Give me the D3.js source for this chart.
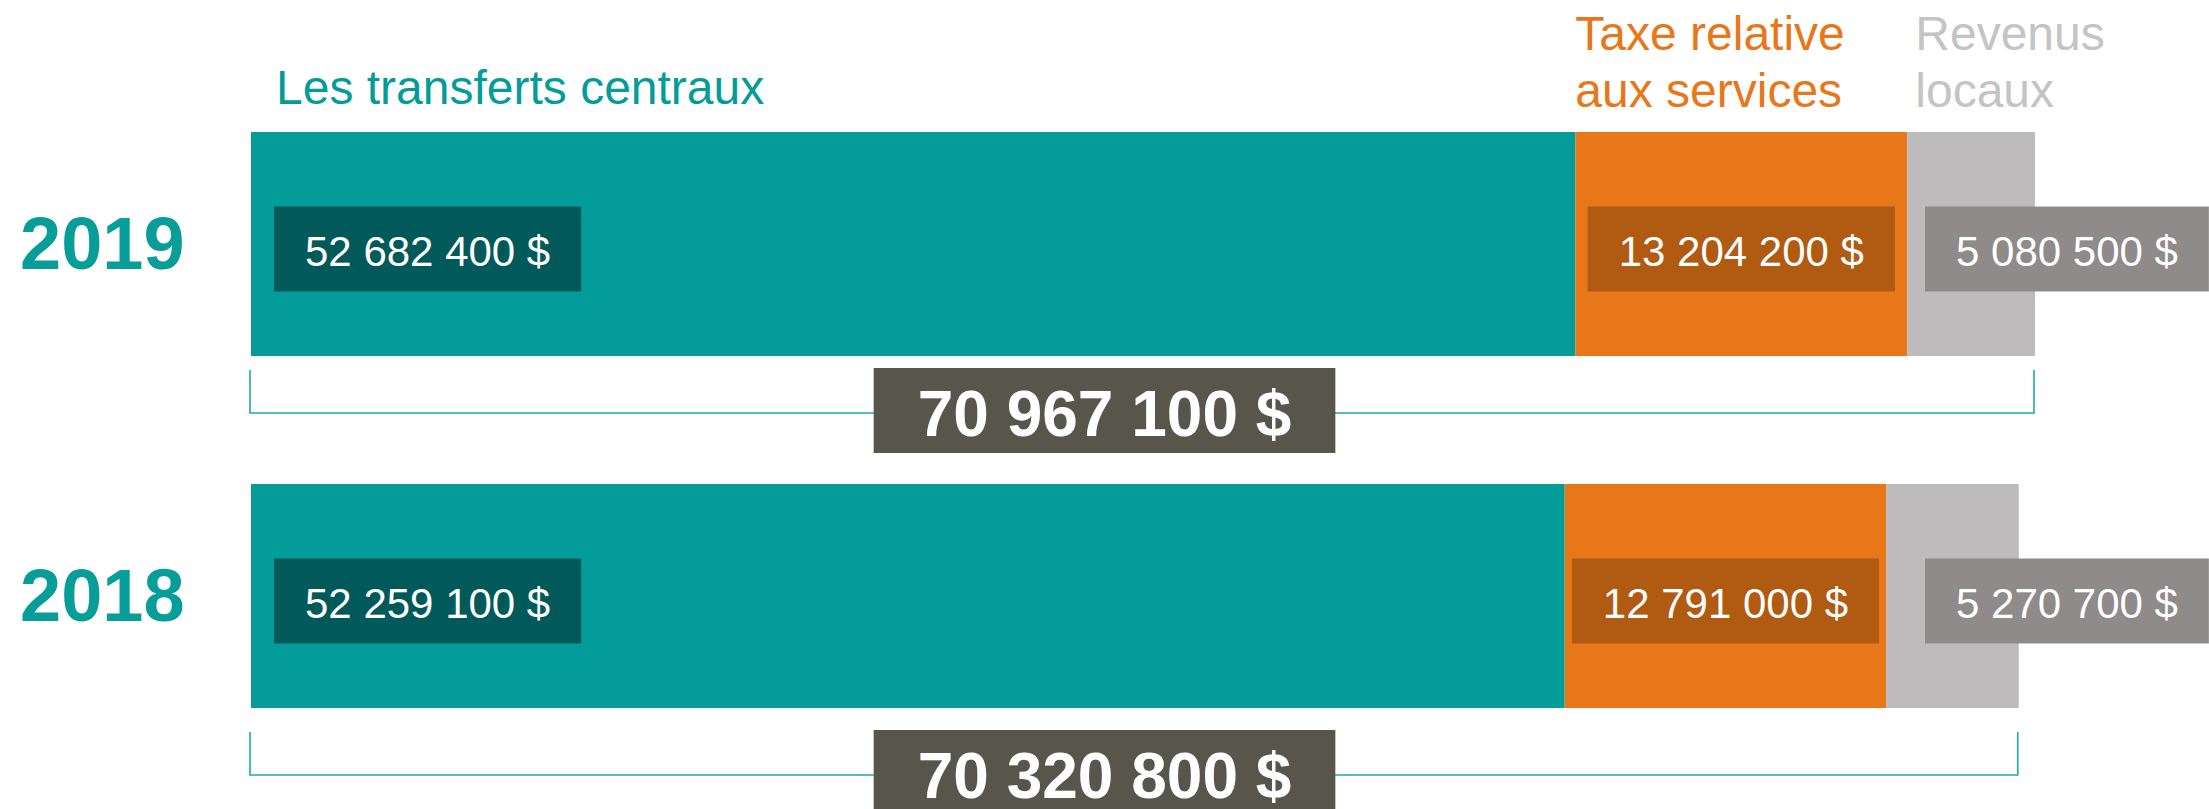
<!DOCTYPE html>
<html>
<head>
<meta charset="utf-8">
<script src="https://cdn.jsdelivr.net/npm/d3@7"></script>
<style>
  body { margin: 0; background: #fff; }
  svg { display: block; font-family: "Liberation Sans", Arial, sans-serif; }
</style>
</head>
<body>
<svg id="chart"></svg>
<script>
var years = ["2019", "2018"];
var transferts = [52682400, 52259100];
var taxe = [13204200, 12791000];
var revenus = [5080500, 5270700];
var totals = [70967100, 70320800];
var categories = [["Les transferts centraux"], ["Taxe relative", "aux services"], ["Revenus", "locaux"]];

var colors = ["#049c99", "#e8771a", "#bdbbbc"];
var darkColors = ["#02595a", "#b05a12", "#8f8b8a"];

var dimensions = { width: 2209, height: 809 };

var svg = d3.select("#chart")
    .attr("width", dimensions.width)
    .attr("height", dimensions.height);

var fmt = v => d3.format(",")(v).replace(/,/g, " ") + " $";

var xScale = d3.scaleLinear()
    .domain([0, d3.max(totals)])
    .range([251, 2035]);

var yScale = d3.scaleBand()
    .domain(years)
    .range([132, 708])
    .paddingInner(0.3636);

// brackets sit a bit further apart than the bars
var bracketY = d3.scalePoint()
    .domain(years)
    .range([413, 775]);

// build stacked rows
var rows = years.map((y, i) => {
    var vals = [transferts[i], taxe[i], revenus[i]];
    var start = 0;
    var segs = vals.map((v, k) => {
        var s = { year: y, k: k, x0: start, x1: start + v, value: v };
        start += v;
        return s;
    });
    return { year: y, total: totals[i], segs: segs };
});

var bh = yScale.bandwidth();

// category headers (above 2019 row)
var first = rows[0].segs;
var headerX = [xScale(first[0].x0) + 25, xScale(first[1].x0), xScale(first[2].x0) + 8];
var headerY = [[104], [50, 107], [50, 107]];
categories.forEach((lines, k) => {
    var t = svg.append("text")
        .attr("fill", k == 2 ? "#c4c4c4" : colors[k])
        .style("font-size", "48px");
    lines.forEach((ln, j) => {
        t.append("tspan")
            .attr("x", headerX[k])
            .attr("y", headerY[k][j])
            .text(ln);
    });
});

rows.forEach(row => {
    var y0 = yScale(row.year);
    var cy = y0 + bh / 2;

    // year label
    svg.append("text")
        .attr("x", 20)
        .attr("y", cy + 25)
        .attr("fill", "#079d99")
        .style("font-size", "74px")
        .style("font-weight", "bold")
        .text(row.year);

    svg.selectAll(null)
        .data(row.segs)
        .enter()
        .append("rect")
        .attr("x", d => xScale(d.x0))
        .attr("y", y0)
        .attr("width", d => xScale(d.x1) - xScale(d.x0))
        .attr("height", bh)
        .attr("fill", d => colors[d.k]);

    // value boxes
    row.segs.forEach(d => {
        var g = svg.append("g");
        var rect = g.append("rect").attr("fill", darkColors[d.k]);
        var txt = g.append("text")
            .attr("fill", "#fff")
            .attr("text-anchor", "middle")
            .style("font-size", "42px")
            .text(fmt(d.value));
        var w = txt.node().getComputedTextLength() + 62;
        var bx;
        if (d.k == 0) bx = xScale(d.x0) + 23;
        else if (d.k == 1) bx = (xScale(d.x0) + xScale(d.x1)) / 2 - w / 2;
        else bx = xScale(d3.max(totals)) - 110;
        var by = cy + 5 - 42.5;
        rect.attr("x", bx).attr("y", by).attr("width", w).attr("height", 85);
        txt.attr("x", bx + w / 2).attr("y", by + 59.5);
    });

    // bracket under bar
    var ly = bracketY(row.year);
    var xa = xScale(0) - 1, xb = xScale(row.total) - 1;
    svg.append("path")
        .attr("d", `M${xa},${ly - 43}V${ly}H${xb}V${ly - 43}`)
        .attr("fill", "none")
        .attr("stroke", "#1faaa6")
        .attr("stroke-width", 1.6);

    // total box
    var tg = svg.append("g");
    var trect = tg.append("rect").attr("fill", "#58564b");
    var ttxt = tg.append("text")
        .attr("fill", "#fff")
        .attr("text-anchor", "middle")
        .style("font-size", "64px")
        .style("font-weight", "bold")
        .text(fmt(row.total));
    var tw = ttxt.node().getComputedTextLength() + 88;
    var tcx = dimensions.width / 2;
    var ty = ly - 45;
    trect.attr("x", tcx - tw / 2).attr("y", ty).attr("width", tw).attr("height", 85);
    ttxt.attr("x", tcx).attr("y", ty + 68);
});
</script>
</body>
</html>
